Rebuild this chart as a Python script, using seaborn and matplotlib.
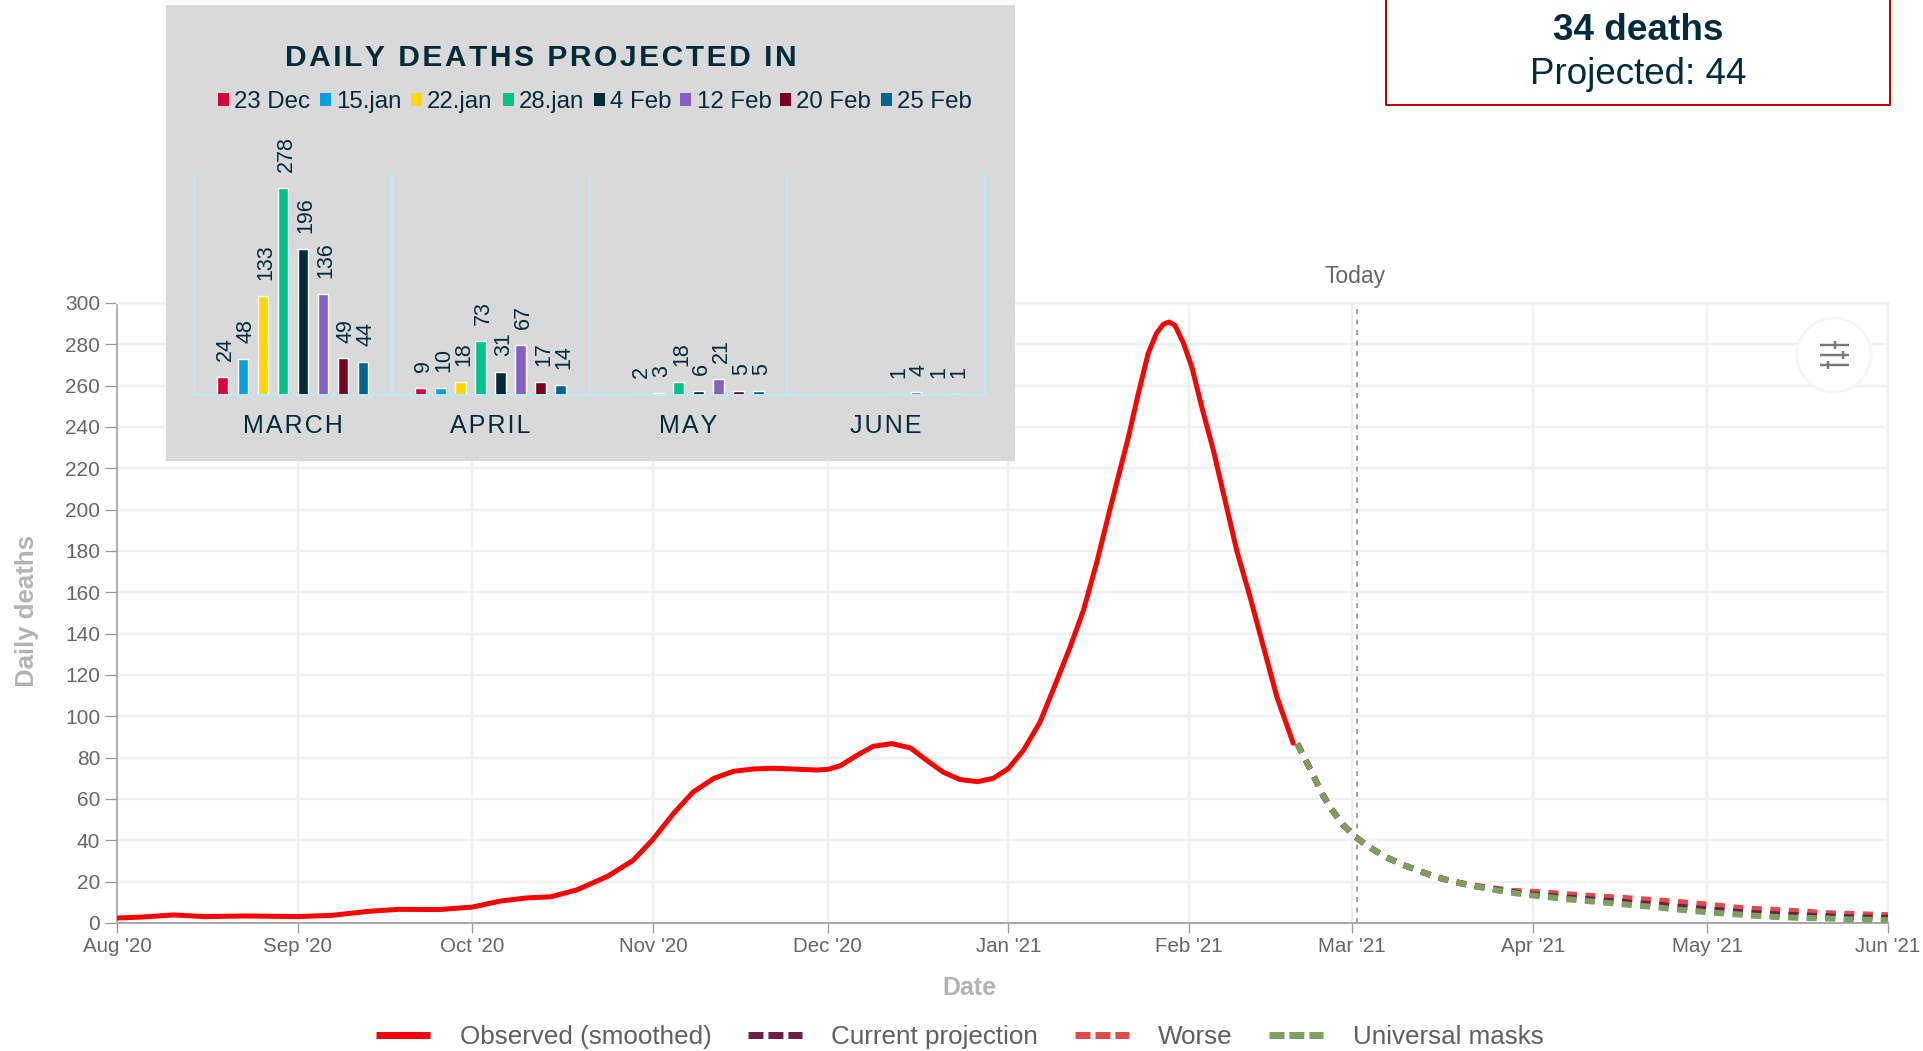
import matplotlib
matplotlib.use("Agg")
import matplotlib.pyplot as plt
from matplotlib.lines import Line2D
from matplotlib.patches import Circle, Rectangle
import pandas as pd
import seaborn as sns

# ---- main chart data; days counted from the axis start, 1 Aug 2020 ----
start = pd.Timestamp("2020-08-01")
obs_days = [0,4.5,9.7,15,22,31,36.9,43,48.3,55.3,61,65.8,70.2,74.5,79,84.2,88.6,92,95.5,98.9,102.4,105.8,
            109.2,112.7,116.1,120.1,122.1,124.1,127,129.8,133,136.2,139,141.8,144.7,147.7,150.4,153,155.6,
            158.4,161,163.6,165.9,168.2,170.4,173.6,175.3,177,178.4,179.6,180.6,181.6,183,184.5,186.2,
            188.2,190.2,192.2,194.5,196.8,199.1,201.9]
obs_vals = [2.4,2.9,3.9,3.1,3.4,3.1,3.7,5.6,6.6,6.5,7.7,10.6,12.1,12.7,16.1,22.6,30.3,40.5,52.9,63.4,69.9,73.4,
            74.5,74.9,74.5,74,74.4,76,81.1,85.5,86.8,84.7,78.7,73,69.4,68.4,70,74.7,83.6,
            97,115,133.5,151.3,174.7,199.7,235,256,275.5,285.2,289.7,290.8,289.2,281,269,249.7,
            228.7,204.5,180.3,157.7,133.5,109.4,87]

proj_days = [202.6,204,205.5,206.8,208.4,210.4,212.6,215.1,217.8,220.7,223.7,226.6,229.7,232.8,236,239,242.3,
             245.4,248.5,251.7,254.8,258,261.1,264.3,267.5,270.7,273.9,277,280.2,283.4,286.6,289.8,293,296.2,299.3,304]
masks_vals = [86.8,79,70.6,62.9,55.3,47.7,41.6,36.5,31.9,28.2,25,22.1,19.8,17.9,16.3,14.8,13.5,
              12.6,11.6,10.8,10,9.2,8.4,7.6,6.6,5.8,5,4.4,3.7,3.1,2.7,2.4,2.3,1.8,1.6,1.4]
current_vals = [86.8,79,70.6,62.9,55.3,47.7,41.6,36.5,31.9,28.2,25,22.1,19.8,17.9,16.5,15.1,14,
                13.2,12.4,11.7,11,10.3,9.6,8.9,8,7.2,6.4,5.7,4.9,4.4,4,3.6,3.3,2.9,2.7,2.5]
worse_vals = [86.8,79,70.6,62.9,55.3,47.7,41.6,36.5,31.9,28.2,25,22.1,19.9,18.2,16.9,15.6,15.2,
              14.7,14,13.4,12.7,12.3,11.6,11,10.3,9.5,8.7,7.7,6.9,6.5,6,5.5,4.8,4.5,4.2,3.8]

y_ticks = list(range(0, 301, 20))
month_ticks = ["2020-08-01","2020-09-01","2020-10-01","2020-11-01","2020-12-01","2021-01-01",
               "2021-02-01","2021-03-01","2021-04-01","2021-05-01","2021-06-01"]
month_labels = ["Aug '20","Sep '20","Oct '20","Nov '20","Dec '20","Jan '21","Feb '21","Mar '21","Apr '21","May '21","Jun '21"]
today_day = 212.8

# ---- inset data ----
months = ["MARCH","APRIL","MAY","JUNE"]
runs = ["23 Dec","15.jan","22.jan","28.jan","4 Feb","12 Feb","20 Feb","25 Feb"]
march = [24,48,133,278,196,136,49,44]
april = [9,10,18,73,31,67,17,14]
may = [None,2,3,18,6,21,5,5]
june = [None,None,None,None,1,4,1,1]
run_colors = ["#D9003A","#00A3E0","#FFD600","#00C389","#002B3C","#8560C4","#7A0022","#00658F"]

W, H = 1924, 1051
sns.set_style("white")
plt.rcParams["font.family"] = ["Liberation Sans", "DejaVu Sans"]
fig = plt.figure(figsize=(W/100, H/100), dpi=100, facecolor="white")

def axbox(x0, y0, x1, y1):
    return [x0/W, 1-y1/H, (x1-x0)/W, (y1-y0)/H]

def to_date(days):
    return start + pd.to_timedelta(days, unit="D")

ax = fig.add_axes(axbox(117, 303, 1888, 923))
obs = pd.DataFrame({"date": to_date(pd.Series(obs_days)), "v": obs_vals})
prj = pd.DataFrame({"date": to_date(pd.Series(proj_days)), "worse": worse_vals, "cur": current_vals, "mask": masks_vals})

px = 0.72
dash = (0, (1.67, 1.42))
sns.lineplot(data=prj, x="date", y="worse", ax=ax, color="#E04B4B", lw=6*px, ls=dash, zorder=3, dash_capstyle="butt")
sns.lineplot(data=prj, x="date", y="cur", ax=ax, color="#6F1D4B", lw=6*px, ls=dash, zorder=4, dash_capstyle="butt")
sns.lineplot(data=prj, x="date", y="mask", ax=ax, color="#7BA05F", lw=6*px, ls=dash, zorder=5, dash_capstyle="butt")
sns.lineplot(data=obs, x="date", y="v", ax=ax, color="#FF0000", lw=5*px, zorder=6)

ax.set_xlim(pd.Timestamp("2020-08-01"), pd.Timestamp("2021-06-01"))
ax.set_ylim(0, 300)
ax.set_yticks(y_ticks)
ax.set_xticks(pd.to_datetime(month_ticks))
ax.set_xticklabels(month_labels)
ax.grid(True, color="#F0F0F0", lw=2.5*px)
ax.set_axisbelow(True)
for s in ["top", "right"]:
    ax.spines[s].set_color("#F0F0F0")
    ax.spines[s].set_linewidth(2.5*px)
ax.spines["left"].set_color("#999999")
ax.spines["bottom"].set_color("#AAAAAA")
ax.spines["left"].set_linewidth(1.5*px)
ax.spines["bottom"].set_linewidth(2*px)
ax.tick_params(axis="y", length=12*px, width=1.3*px, color="#999999", labelcolor="#666666", labelsize=15, pad=3.5, left=True)
ax.tick_params(axis="x", length=10*px, width=1.3*px, color="#999999", labelcolor="#666666", labelsize=14.8, pad=3, bottom=True)
ax.set_xlabel("Date", fontsize=18, fontweight="bold", color="#B3B3B3")
ax.set_ylabel("Daily deaths", fontsize=18.5, fontweight="bold", color="#B3B3B3")
ax.xaxis.set_label_coords((969-117)/(1888-117), -0.0855)
ax.yaxis.set_label_coords((39.5-117)/(1888-117), (923-611)/620)

today = to_date(today_day)
ax.axvline(today, color="#888888", lw=1.5*px, ls=(0, (3.3, 3.7)), zorder=2)
ax.annotate("Today", (today, 1), xycoords=("data", "axes fraction"), xytext=(-1.5, 19), textcoords="offset points",
            ha="center", va="center", fontsize=16.5, color="#666666")

ld = (0, (2.14, .71))
handles = [Line2D([], [], color="#FF0000", lw=7*px, solid_capstyle="butt"),
           Line2D([], [], color="#6F1D4B", lw=7*px, ls=ld, dash_capstyle="butt"),
           Line2D([], [], color="#E04B4B", lw=7*px, ls=ld, dash_capstyle="butt"),
           Line2D([], [], color="#7BA05F", lw=7*px, ls=ld, dash_capstyle="butt")]
fig.legend(handles, ["Observed (smoothed)", "Current projection", "Worse", "Universal masks"],
           ncol=4, frameon=False, fontsize=18.7, handlelength=2.08, handletextpad=1.14, columnspacing=1.4,
           loc="center left", bbox_to_anchor=(376/W, 1-1037/H), borderaxespad=0, borderpad=0, labelcolor="#5F5F5F")

# overlay for the settings button, red box and inset panel
ov = fig.add_axes([0, 0, 1, 1], facecolor="none", zorder=8)
ov.set_xlim(0, W); ov.set_ylim(H, 0); ov.axis("off")
ov.add_patch(Circle((1834, 355), 37, fc="white", ec="#F6F6F6", lw=2))
for yy, tick in [(345, 1835), (355, 1843), (365, 1828)]:
    ov.plot([1820, 1849], [yy, yy], color="#777777", lw=2.4*px, solid_capstyle="butt")
    ov.plot([tick, tick], [yy-4, yy+4], color="#777777", lw=2.4*px, solid_capstyle="butt")

ov.plot([1386, 1386, 1890, 1890], [0, 105, 105, 0], color="#C00000", lw=2*px)
ov.text(1638, 31, "34 deaths", fontsize=26.6, fontweight="bold", color="#002B3C", ha="center", va="center")
ov.text(1638, 74.5, "Projected: 44", fontsize=26.5, color="#002B3C", ha="center", va="center")

hair = "\u200a"
ov.add_patch(Rectangle((166, 5), 849, 456, fc="#D9D9D9", ec="none", zorder=0))
ov.text(541, 58, hair.join("DAILY DEATHS PROJECTED IN"), fontsize=21.6, fontweight="bold", color="#002B3C",
        ha="center", va="center", zorder=3)

long = pd.DataFrame({"month": [m for m in months for _ in runs], "run": runs*4, "v": march+april+may+june})
iax = fig.add_axes(axbox(194, 174, 985, 395), facecolor="none", zorder=9)
sns.barplot(data=long, x="month", y="v", hue="run", hue_order=runs, order=months, palette=run_colors, ax=iax,
            width=0.81, gap=0.47, legend=False, saturation=1)
iax.set_xlim(-0.5, 3.5)
iax.set_ylim(0, 221/0.745)
iax.set_xlabel(""); iax.set_ylabel(""); iax.set_yticks([])
iax.tick_params(axis="x", length=0, pad=14, labelsize=18, labelcolor="#002B3C")
iax.set_xticks(range(4))
iax.set_xticklabels([hair.join(m) for m in months])
for s in ["top", "right", "left"]:
    iax.spines[s].set_visible(False)
iax.spines["bottom"].set_color("#BDE8F8"); iax.spines["bottom"].set_linewidth(2*px)
for b in [-0.5, 0.5, 1.5, 2.5, 3.5]:
    iax.axvline(b, color="#BDE8F8", lw=2.2*px, zorder=0, clip_on=False)
for c in iax.containers:
    for t in iax.bar_label(c, fmt="%g", rotation=90, padding=11.5, fontsize=15.5, color="#002B3C", clip_on=False):
        t.xyann = (2.2, 11.5)

sq = [178, 261, 335, 410, 484, 554, 636, 718]
tx = [191, 274, 348, 423, 497, 568, 649, 731]
for s, t, name, col in zip(sq, tx, runs, run_colors):
    ov.add_patch(Rectangle((s*1.227, 93), 11, 13, fc=col, ec="none", zorder=3))
    ov.text(t*1.227, 102, name, fontsize=17.3, color="#002B3C", ha="left", va="center", zorder=3)

fig.savefig("out.png", dpi=100)
